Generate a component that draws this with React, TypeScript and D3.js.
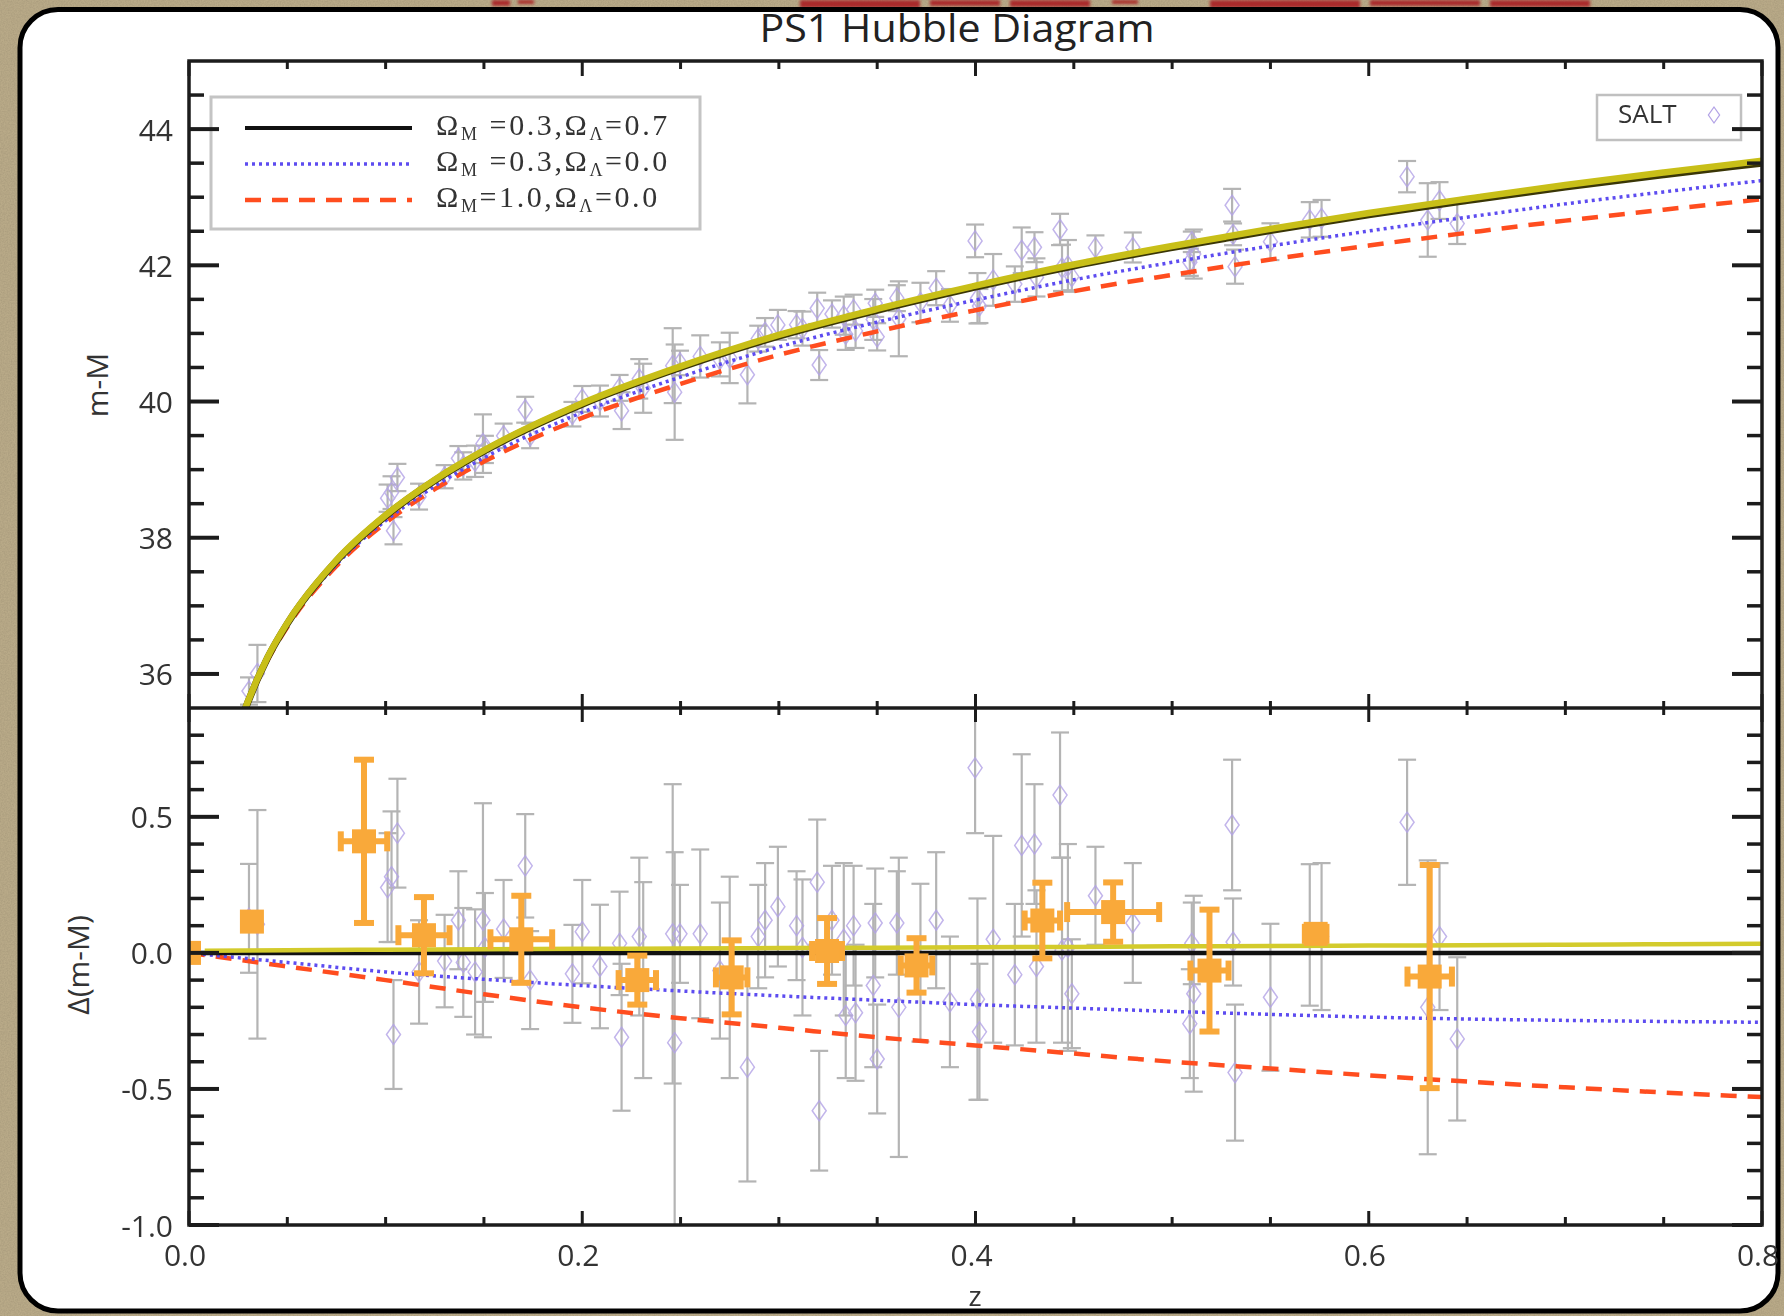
import React, { useEffect } from "react";
import * as d3 from "d3";

// ---------- axis ticks ----------
const xMajorTicks = [0, 0.2, 0.4, 0.6, 0.8];
const xTickLabels = ["0.0", "0.2", "0.4", "0.6", "0.8"];
const xMinorTicks = [0.05, 0.1, 0.15, 0.25, 0.3, 0.35, 0.45, 0.5, 0.55, 0.65, 0.7, 0.75];
const topMajorTicks = [36, 38, 40, 42, 44];
const topTickLabels = ["36", "38", "40", "42", "44"];
const topMinorTicks = [36.5, 37, 37.5, 38.5, 39, 39.5, 40.5, 41, 41.5, 42.5, 43, 43.5, 44.5];
const botMajorTicks = [-1.0, -0.5, 0, 0.5];
const botTickLabels = ["-1.0", "-0.5", "0.0", "0.5"];
const botMinorTicks = [-0.9, -0.8, -0.7, -0.6, -0.4, -0.3, -0.2, -0.1, 0.1, 0.2, 0.3, 0.4, 0.6, 0.7, 0.8];

// ---------- model curves ----------
// distance modulus of the Omega_M=0.3, Omega_L=0.7 model
const modelZ = [0.02, 0.025, 0.03, 0.04, 0.05, 0.075, 0.1, 0.125, 0.15, 0.2, 0.25, 0.3, 0.35, 0.4, 0.45, 0.5, 0.55, 0.6, 0.65, 0.7, 0.75, 0.8];
const modelMu = [34.70, 35.19, 35.59, 36.24, 36.74, 37.66, 38.32, 38.84, 39.27, 39.96, 40.50, 40.96, 41.34, 41.68, 41.99, 42.26, 42.51, 42.74, 42.95, 43.15, 43.33, 43.50];
// residuals of the other models relative to it (lower panel)
const residZ = [0, 0.05, 0.1, 0.15, 0.2, 0.25, 0.3, 0.35, 0.4, 0.45, 0.5, 0.55, 0.6, 0.65, 0.7, 0.75, 0.8];
const residOpen = [0, -0.035, -0.07, -0.097, -0.12, -0.14, -0.158, -0.174, -0.19, -0.203, -0.215, -0.226, -0.236, -0.243, -0.248, -0.252, -0.255];
const residEdS = [0, -0.05, -0.1, -0.152, -0.2, -0.24, -0.275, -0.31, -0.34, -0.37, -0.4, -0.425, -0.45, -0.473, -0.494, -0.513, -0.53];
const residFit = [0.008, 0.01, 0.012, 0.013, 0.015, 0.016, 0.018, 0.019, 0.021, 0.022, 0.024, 0.025, 0.027, 0.028, 0.03, 0.032, 0.034];

// ---------- SALT supernovae (z, residual, error) ----------
const saltZ = [0.0305, 0.0348, 0.101, 0.103, 0.104, 0.106, 0.117, 0.130, 0.137, 0.1395, 0.1455, 0.1495, 0.1505, 0.160, 0.171, 0.1735,
  0.195, 0.200, 0.209, 0.219, 0.220, 0.229, 0.231, 0.246, 0.247, 0.2497, 0.260, 0.270, 0.275, 0.284, 0.2895, 0.293, 0.2995, 0.309, 0.312, 0.3195, 0.3205, 0.327, 0.333, 0.334,
  0.338, 0.339, 0.348, 0.349, 0.350, 0.360, 0.361, 0.372, 0.380, 0.387, 0.3998, 0.401, 0.402, 0.409, 0.420, 0.4235, 0.430, 0.431, 0.443, 0.444, 0.447, 0.449, 0.461, 0.480,
  0.509, 0.510, 0.511, 0.5305, 0.531, 0.532, 0.550, 0.570, 0.576, 0.6195, 0.630, 0.636, 0.645];
const saltResid = [0.127, 0.105, 0.24, 0.28, -0.30, 0.44, -0.07, -0.03, 0.12, -0.035, -0.07, 0.12, 0.02, 0.088, 0.32, -0.10,
  -0.077, 0.078, -0.05, 0.035, -0.31, 0.06, -0.10, 0.07, -0.33, 0.07, 0.07, -0.065, -0.09, -0.42, 0.06, 0.12, 0.17, 0.10, 0.02, 0.26, -0.58, 0.12, 0.05, -0.23,
  0.10, -0.22, -0.12, 0.11, -0.39, 0.11, -0.20, -0.036, 0.12, -0.18, 0.68, -0.17, -0.29, 0.05, -0.08, 0.395, 0.40, -0.05, 0.58, 0.01, 0.02, -0.15, 0.21, 0.11,
  -0.26, 0.035, -0.15, 0.47, 0.04, -0.44, -0.163, 0.066, 0.06, 0.48, -0.20, 0.06, -0.316];
const saltErr = [0.20, 0.42, 0.20, 0.24, 0.20, 0.20, 0.19, 0.17, 0.18, 0.20, 0.23, 0.43, 0.20, 0.18, 0.19, 0.18,
  0.18, 0.19, 0.227, 0.19, 0.27, 0.29, 0.36, 0.55, 0.70, 0.18, 0.31, 0.25, 0.37, 0.42, 0.19, 0.21, 0.22, 0.20, 0.25, 0.23, 0.22, 0.20, 0.28, 0.23,
  0.22, 0.25, 0.30, 0.20, 0.20, 0.19, 0.55, 0.29, 0.25, 0.24, 0.24, 0.37, 0.25, 0.38, 0.26, 0.335, 0.22, 0.28, 0.23, 0.34, 0.38, 0.20, 0.18, 0.22,
  0.20, 0.15, 0.36, 0.24, 0.16, 0.25, 0.27, 0.26, 0.27, 0.23, 0.54, 0.27, 0.30];

// ---------- binned points (orange) ----------
const binZ = [0.0, 0.032, 0.089, 0.1195, 0.169, 0.228, 0.276, 0.3245, 0.370, 0.434, 0.470, 0.519, 0.573, 0.631];
const binResid = [0.0, 0.115, 0.41, 0.065, 0.05, -0.10, -0.09, 0.007, -0.046, 0.119, 0.15, -0.065, 0.07, -0.087];
const binErrZ = [0.004, 0.004, 0.0118, 0.013, 0.0157, 0.0095, 0.008, 0.0076, 0.008, 0.009, 0.0234, 0.0097, 0.0055, 0.0113];
const binErrResid = [0.03, 0.02, 0.30, 0.14, 0.16, 0.09, 0.136, 0.121, 0.10, 0.139, 0.109, 0.224, 0.03, 0.41];

const title = "PS1 Hubble Diagram";
const yTopLabel = "m-M";
const yBotLabel = "Δ(m-M)";
const xLabel = "z";
const saltLabel = "SALT";

const SANS = "'Open Sans', 'DejaVu Sans', sans-serif";
const SERIF = "'Liberation Serif', 'DejaVu Serif', serif";
const AXIS = "#1c1c1c";
const GRAY = "#b4b4b4";
const LAV = "#b3a3e6";
const ORANGE = "#f9a93a";
const BLUE = "#5d4cf0";
const RED = "#ff4d1f";
const YELLOW = "#c8bf18";

export default function App() {
  useEffect(() => {
    document.body.style.margin = "0";
  }, []);
  const W = 1784, H = 1316;
  const L = 189, R = 1762, T = 61, M = 708, B = 1225;

  const x = d3.scaleLinear().domain([0, 0.8]).range([L, R]);
  const yTop = d3.scaleLinear().domain([35.5, 45]).range([M, T]);
  const yBot = d3.scaleLinear().domain([-1.0, 0.9]).range([B, M]);
  const muAt = d3.scaleLinear().domain(modelZ).range(modelMu);
  const dOpen = d3.scaleLinear().domain(residZ).range(residOpen);
  const dEdS = d3.scaleLinear().domain(residZ).range(residEdS);
  const dFit = d3.scaleLinear().domain(residZ).range(residFit);

  type P = [number, number];
  const lineTop = d3.line<P>().x(d => x(d[0])).y(d => yTop(d[1])).curve(d3.curveMonotoneX);
  const lineBot = d3.line<P>().x(d => x(d[0])).y(d => yBot(d[1])).curve(d3.curveMonotoneX);

  const topLCDM: P[] = modelZ.map((z, i) => [z, modelMu[i]]);
  const topOpen: P[] = modelZ.map((z, i) => [z, modelMu[i] + dOpen(z)]);
  const topEdS: P[] = modelZ.map((z, i) => [z, modelMu[i] + dEdS(z)]);
  const topFit: P[] = modelZ.map((z, i) => [z, modelMu[i] + dFit(z)]);
  const botLCDM: P[] = [[0, 0], [0.8, 0]];
  const botOpen: P[] = residZ.map((z, i) => [z, residOpen[i]]);
  const botEdS: P[] = residZ.map((z, i) => [z, residEdS[i]]);
  const botFit: P[] = residZ.map((z, i) => [z, residFit[i]]).filter(d => d[0] > 0) as P[];
  botFit.unshift([0.008, dFit(0.008)]);

  const salt = saltZ.map((z, i) => ({ z, r: saltResid[i], e: saltErr[i], mu: muAt(z) + saltResid[i] }));
  const bins = binZ.map((z, i) => ({ z, r: binResid[i], ez: binErrZ[i], er: binErrResid[i] }));

  const diamond = "M0,-10 L7,0 L0,10 L-7,0 Z";

  const errBar = (cx: number, y1: number, y2: number, key: string) => (
    <g key={key}>
      <line x1={cx} x2={cx} y1={y1} y2={y2} />
      <line x1={cx - 9} x2={cx + 9} y1={y1} y2={y1} />
      <line x1={cx - 9} x2={cx + 9} y1={y2} y2={y2} />
    </g>
  );

  const legendRows = [
    { y: 128, label: ["Ω", "M", " =0.3,Ω", "Λ", "=0.7"], stroke: "#111", dash: undefined as string | undefined, w: 4 },
    { y: 164, label: ["Ω", "M", " =0.3,Ω", "Λ", "=0.0"], stroke: BLUE, dash: "3 4", w: 3.5 },
    { y: 200, label: ["Ω", "M", "=1.0,Ω", "Λ", "=0.0"], stroke: RED, dash: "16 11", w: 4.5 },
  ];

  return (
    <svg width={W} height={H} viewBox={`0 0 ${W} ${H}`} style={{ position: "fixed", left: 0, top: 0, display: "block" }}>
      <defs>
        <filter id="paper" x="0" y="0" width="100%" height="100%">
          <feTurbulence type="fractalNoise" baseFrequency="0.7" numOctaves="3" seed="7" result="n" />
          <feColorMatrix in="n" type="matrix" values="0 0 0 0 0.35  0 0 0 0 0.29  0 0 0 0 0.18  0 0 0 0.9 -0.25" />
        </filter>
        <filter id="smudge">
          <feGaussianBlur stdDeviation="1.8" />
        </filter>
        <clipPath id="clipTop"><rect x={L} y={T} width={R - L} height={M - T} /></clipPath>
        <clipPath id="clipBot"><rect x={L} y={M} width={R - L} height={B - M} /></clipPath>
      </defs>

      {/* parchment background */}
      <rect x={0} y={0} width={W} height={H} fill="#b9aa88" />
      <rect x={0} y={0} width={W} height={H} filter="url(#paper)" />
      <g fill="#a8161a" filter="url(#smudge)" opacity={0.85}>
        <rect x={492} y={0} width={18} height={6} />
        <rect x={518} y={0} width={16} height={4} />
        <rect x={800} y={0} width={120} height={8} />
        <rect x={930} y={0} width={70} height={6} />
        <rect x={1010} y={0} width={80} height={7} />
        <rect x={1112} y={0} width={26} height={4} />
        <rect x={1210} y={0} width={150} height={8} />
        <rect x={1370} y={0} width={110} height={6} />
        <rect x={1490} y={0} width={100} height={7} />
      </g>

      {/* card */}
      <rect x={20} y={9.5} width={1758} height={1301.5} rx={38} ry={38} fill="#ffffff" stroke="#000" strokeWidth={5} />

      {/* title */}
      <text x={957} y={42} textAnchor="middle" fontFamily={SANS} fontSize={38} fill="#222" textLength={395} lengthAdjust="spacingAndGlyphs">{title}</text>

      {/* ---------- TOP PANEL ---------- */}
      <g clipPath="url(#clipTop)">
        <g stroke={GRAY} strokeWidth={2.2}>
          {salt.map((d, i) => errBar(x(d.z), yTop(d.mu + d.e), yTop(d.mu - d.e), "te" + i))}
        </g>
        <g fill="none" stroke={LAV} strokeWidth={1.5} opacity={0.8}>
          {salt.map((d, i) => <path key={"td" + i} d={diamond} transform={`translate(${x(d.z)},${yTop(d.mu)})`} />)}
        </g>
        <path d={lineTop(topEdS) || ""} fill="none" stroke={RED} strokeWidth={4.5} strokeDasharray="16 11" />
        <path d={lineTop(topOpen) || ""} fill="none" stroke={BLUE} strokeWidth={3.5} strokeDasharray="3 4" />
        <path d={lineTop(topLCDM) || ""} fill="none" stroke="#3a3606" strokeWidth={7} />
        <path d={lineTop(topFit) || ""} fill="none" stroke={YELLOW} strokeWidth={6.5} />
      </g>

      {/* ---------- BOTTOM PANEL ---------- */}
      <g clipPath="url(#clipBot)">
        <g stroke={GRAY} strokeWidth={2.2}>
          {salt.map((d, i) => errBar(x(d.z), yBot(d.r + d.e), yBot(d.r - d.e), "be" + i))}
        </g>
        <g fill="none" stroke={LAV} strokeWidth={1.5} opacity={0.8}>
          {salt.map((d, i) => <path key={"bd" + i} d={diamond} transform={`translate(${x(d.z)},${yBot(d.r)})`} />)}
        </g>
        <path d={lineBot(botEdS) || ""} fill="none" stroke={RED} strokeWidth={4.5} strokeDasharray="16 11" />
        <path d={lineBot(botOpen) || ""} fill="none" stroke={BLUE} strokeWidth={3.5} strokeDasharray="3 4" />
        <path d={lineBot(botLCDM) || ""} fill="none" stroke="#111" strokeWidth={4.5} />
        <path d={lineBot(botFit) || ""} fill="none" stroke="#d3cb2c" strokeWidth={4.5} />
        <g stroke={ORANGE} fill={ORANGE} strokeWidth={6}>
          {bins.map((d, i) => {
            const cx = x(d.z), cy = yBot(d.r);
            const xa = x(d.z - d.ez), xb = x(d.z + d.ez);
            const ya = yBot(d.r + d.er), yb = yBot(d.r - d.er);
            return (
              <g key={"bin" + i}>
                <line x1={cx} x2={cx} y1={ya} y2={yb} />
                <line x1={xa} x2={xb} y1={cy} y2={cy} />
                <line x1={cx - 10} x2={cx + 10} y1={ya} y2={ya} />
                <line x1={cx - 10} x2={cx + 10} y1={yb} y2={yb} />
                <line x1={xa} x2={xa} y1={cy - 10} y2={cy + 10} />
                <line x1={xb} x2={xb} y1={cy - 10} y2={cy + 10} />
                <rect x={cx - 12} y={cy - 12} width={24} height={24} stroke="none" />
              </g>
            );
          })}
        </g>
      </g>

      {/* legend */}
      <rect x={211} y={97} width={489} height={132} fill="#fff" stroke="#c4c4c4" strokeWidth={3} />
      {legendRows.map((r, i) => (
        <g key={"lg" + i}>
          <line x1={245} x2={412} y1={r.y} y2={r.y} stroke={r.stroke} strokeWidth={r.w} strokeDasharray={r.dash} />
          <text x={436} y={r.y + 7} fontFamily={SERIF} fontSize={30} fill="#333" letterSpacing={2.6}>
            <tspan>{r.label[0]}</tspan>
            <tspan fontSize={18} dy={5}>{r.label[1]}</tspan>
            <tspan dy={-5}>{r.label[2]}</tspan>
            <tspan fontSize={18} dy={5}>{r.label[3]}</tspan>
            <tspan dy={-5}>{r.label[4]}</tspan>
          </text>
        </g>
      ))}
      <rect x={1597} y={95} width={144} height={45} fill="#fff" stroke="#c0c0c0" strokeWidth={2.5} />
      <text x={1618} y={113} dominantBaseline="central" fontFamily={SANS} fontSize={26} fill="#333">{saltLabel}</text>
      <path d={diamond} transform="translate(1714,115) scale(0.8)" fill="none" stroke={LAV} strokeWidth={1.6} />

      {/* ---------- frames and ticks ---------- */}
      <g stroke={AXIS} fill="none">
        <rect x={L} y={T} width={R - L} height={B - T} strokeWidth={3.5} />
        <line x1={L} x2={R} y1={M} y2={M} strokeWidth={3.5} />
        {topMajorTicks.map(v => (
          <g key={"tmj" + v} strokeWidth={4}>
            <line x1={L} x2={L + 30} y1={yTop(v)} y2={yTop(v)} />
            <line x1={R} x2={R - 30} y1={yTop(v)} y2={yTop(v)} />
          </g>
        ))}
        {topMinorTicks.map(v => (
          <g key={"tmn" + v} strokeWidth={3.5}>
            <line x1={L} x2={L + 15} y1={yTop(v)} y2={yTop(v)} />
            <line x1={R} x2={R - 15} y1={yTop(v)} y2={yTop(v)} />
          </g>
        ))}
        {botMajorTicks.map(v => (
          <g key={"bmj" + v} strokeWidth={4}>
            <line x1={L} x2={L + 30} y1={yBot(v)} y2={yBot(v)} />
            <line x1={R} x2={R - 30} y1={yBot(v)} y2={yBot(v)} />
          </g>
        ))}
        {botMinorTicks.map(v => (
          <g key={"bmn" + v} strokeWidth={3.5}>
            <line x1={L} x2={L + 15} y1={yBot(v)} y2={yBot(v)} />
            <line x1={R} x2={R - 15} y1={yBot(v)} y2={yBot(v)} />
          </g>
        ))}
        {xMajorTicks.map(v => (
          <g key={"xmj" + v} strokeWidth={3}>
            <line x1={x(v)} x2={x(v)} y1={T} y2={T + 15} />
            <line x1={x(v)} x2={x(v)} y1={M - 14} y2={M + 14} />
            <line x1={x(v)} x2={x(v)} y1={B} y2={B - 14} />
          </g>
        ))}
        {xMinorTicks.map(v => (
          <g key={"xmn" + v} strokeWidth={3}>
            <line x1={x(v)} x2={x(v)} y1={T} y2={T + 8} />
            <line x1={x(v)} x2={x(v)} y1={M - 7} y2={M + 7} />
            <line x1={x(v)} x2={x(v)} y1={B} y2={B - 8} />
          </g>
        ))}
      </g>

      {/* tick labels */}
      <g fontFamily={SANS} fontSize={30} fill="#333">
        {topMajorTicks.map((v, i) => (
          <text key={"tl" + v} x={173} y={yTop(v)} textAnchor="end" dominantBaseline="central">{topTickLabels[i]}</text>
        ))}
        {botMajorTicks.map((v, i) => (
          <text key={"bl" + v} x={173} y={yBot(v)} textAnchor="end" dominantBaseline="central">{botTickLabels[i]}</text>
        ))}
        {xMajorTicks.map((v, i) => (
          <text key={"xl" + v} x={x(v) - 4} y={1266} textAnchor="middle">{xTickLabels[i]}</text>
        ))}
        <text x={975} y={1305.5} textAnchor="middle" fontSize={28}>{xLabel}</text>
        <text transform="translate(96,385) rotate(-90)" textAnchor="middle" dominantBaseline="central">{yTopLabel}</text>
        <text transform="translate(77,965) rotate(-90)" textAnchor="middle" dominantBaseline="central">{yBotLabel}</text>
      </g>
    </svg>
  );
}
